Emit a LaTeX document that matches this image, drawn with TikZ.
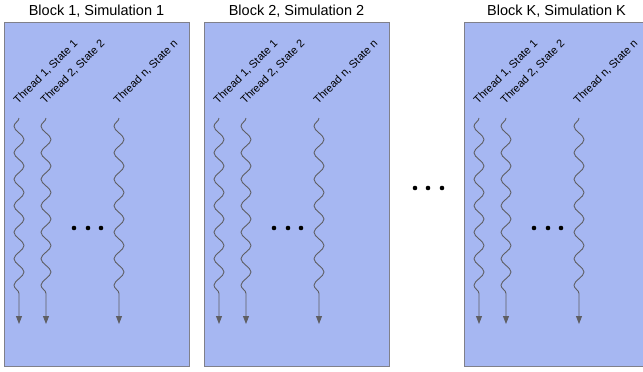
\documentclass[tikz,border=0pt]{standalone}
\usepackage{fontspec}
\setmainfont{Liberation Sans}
\usetikzlibrary{decorations.pathmorphing,arrows.meta}

\definecolor{blockfill}{RGB}{166,183,242}
\definecolor{blockline}{RGB}{128,128,138}
\definecolor{wavecol}{RGB}{95,95,100}

\tikzset{
	block/.style={draw=blockline, fill=blockfill, line width=0.9pt, minimum width=185pt, minimum height=344pt, inner sep=0pt, outer sep=0pt},
	blocktitle/.style={font=\fontsize{14.5}{17}\selectfont},
	threadlbl/.style={font=\fontsize{11}{13}\selectfont, rotate=45, anchor=south west, inner sep=0pt},
	wave/.style={draw=wavecol, line width=0.9pt, -{Triangle[length=8pt,width=6pt]}, decorate,
		decoration={snake, segment length=26.5pt, amplitude=-5pt, post length=22pt}},
	bigdot/.style={circle, fill=black, inner sep=0pt, minimum size=4.6pt}
}

\begin{document}
\begin{tikzpicture}[x=1pt,y=-1pt]
	\useasboundingbox (0,0) rectangle (643,372);

	% one block per simulation
	\foreach \b/\x in {1/0, 2/200, K/460}{
		\node[block] (blk\b) at (\x+96.5,194) {};
		\node[blocktitle] (title\b) at (\x+96.5,11) {Block \b, Simulation \b};
		\foreach \t/\dx/\s in {1/19/1, 2/46/2, n/119/n}{
			\node[threadlbl] (lbl\b\t) at (\x+\dx,106) {Thread \s, State \s};
			\coordinate (top\b\t) at (\x+\dx,118);
			\coordinate (tip\b\t) at (\x+\dx,324);
			\draw[wave] (top\b\t) -- (tip\b\t);
		}
		\node[bigdot] (dota\b) at (\x+74,228) {};
		\node[bigdot] (dotb\b) at (\x+88,228) {};
		\node[bigdot] (dotc\b) at (\x+101,228) {};
	}

	% dots between the blocks
	\node[bigdot] (gapa) at (415,188) {};
	\node[bigdot] (gapb) at (428,188) {};
	\node[bigdot] (gapc) at (442,188) {};
\end{tikzpicture}
\end{document}
